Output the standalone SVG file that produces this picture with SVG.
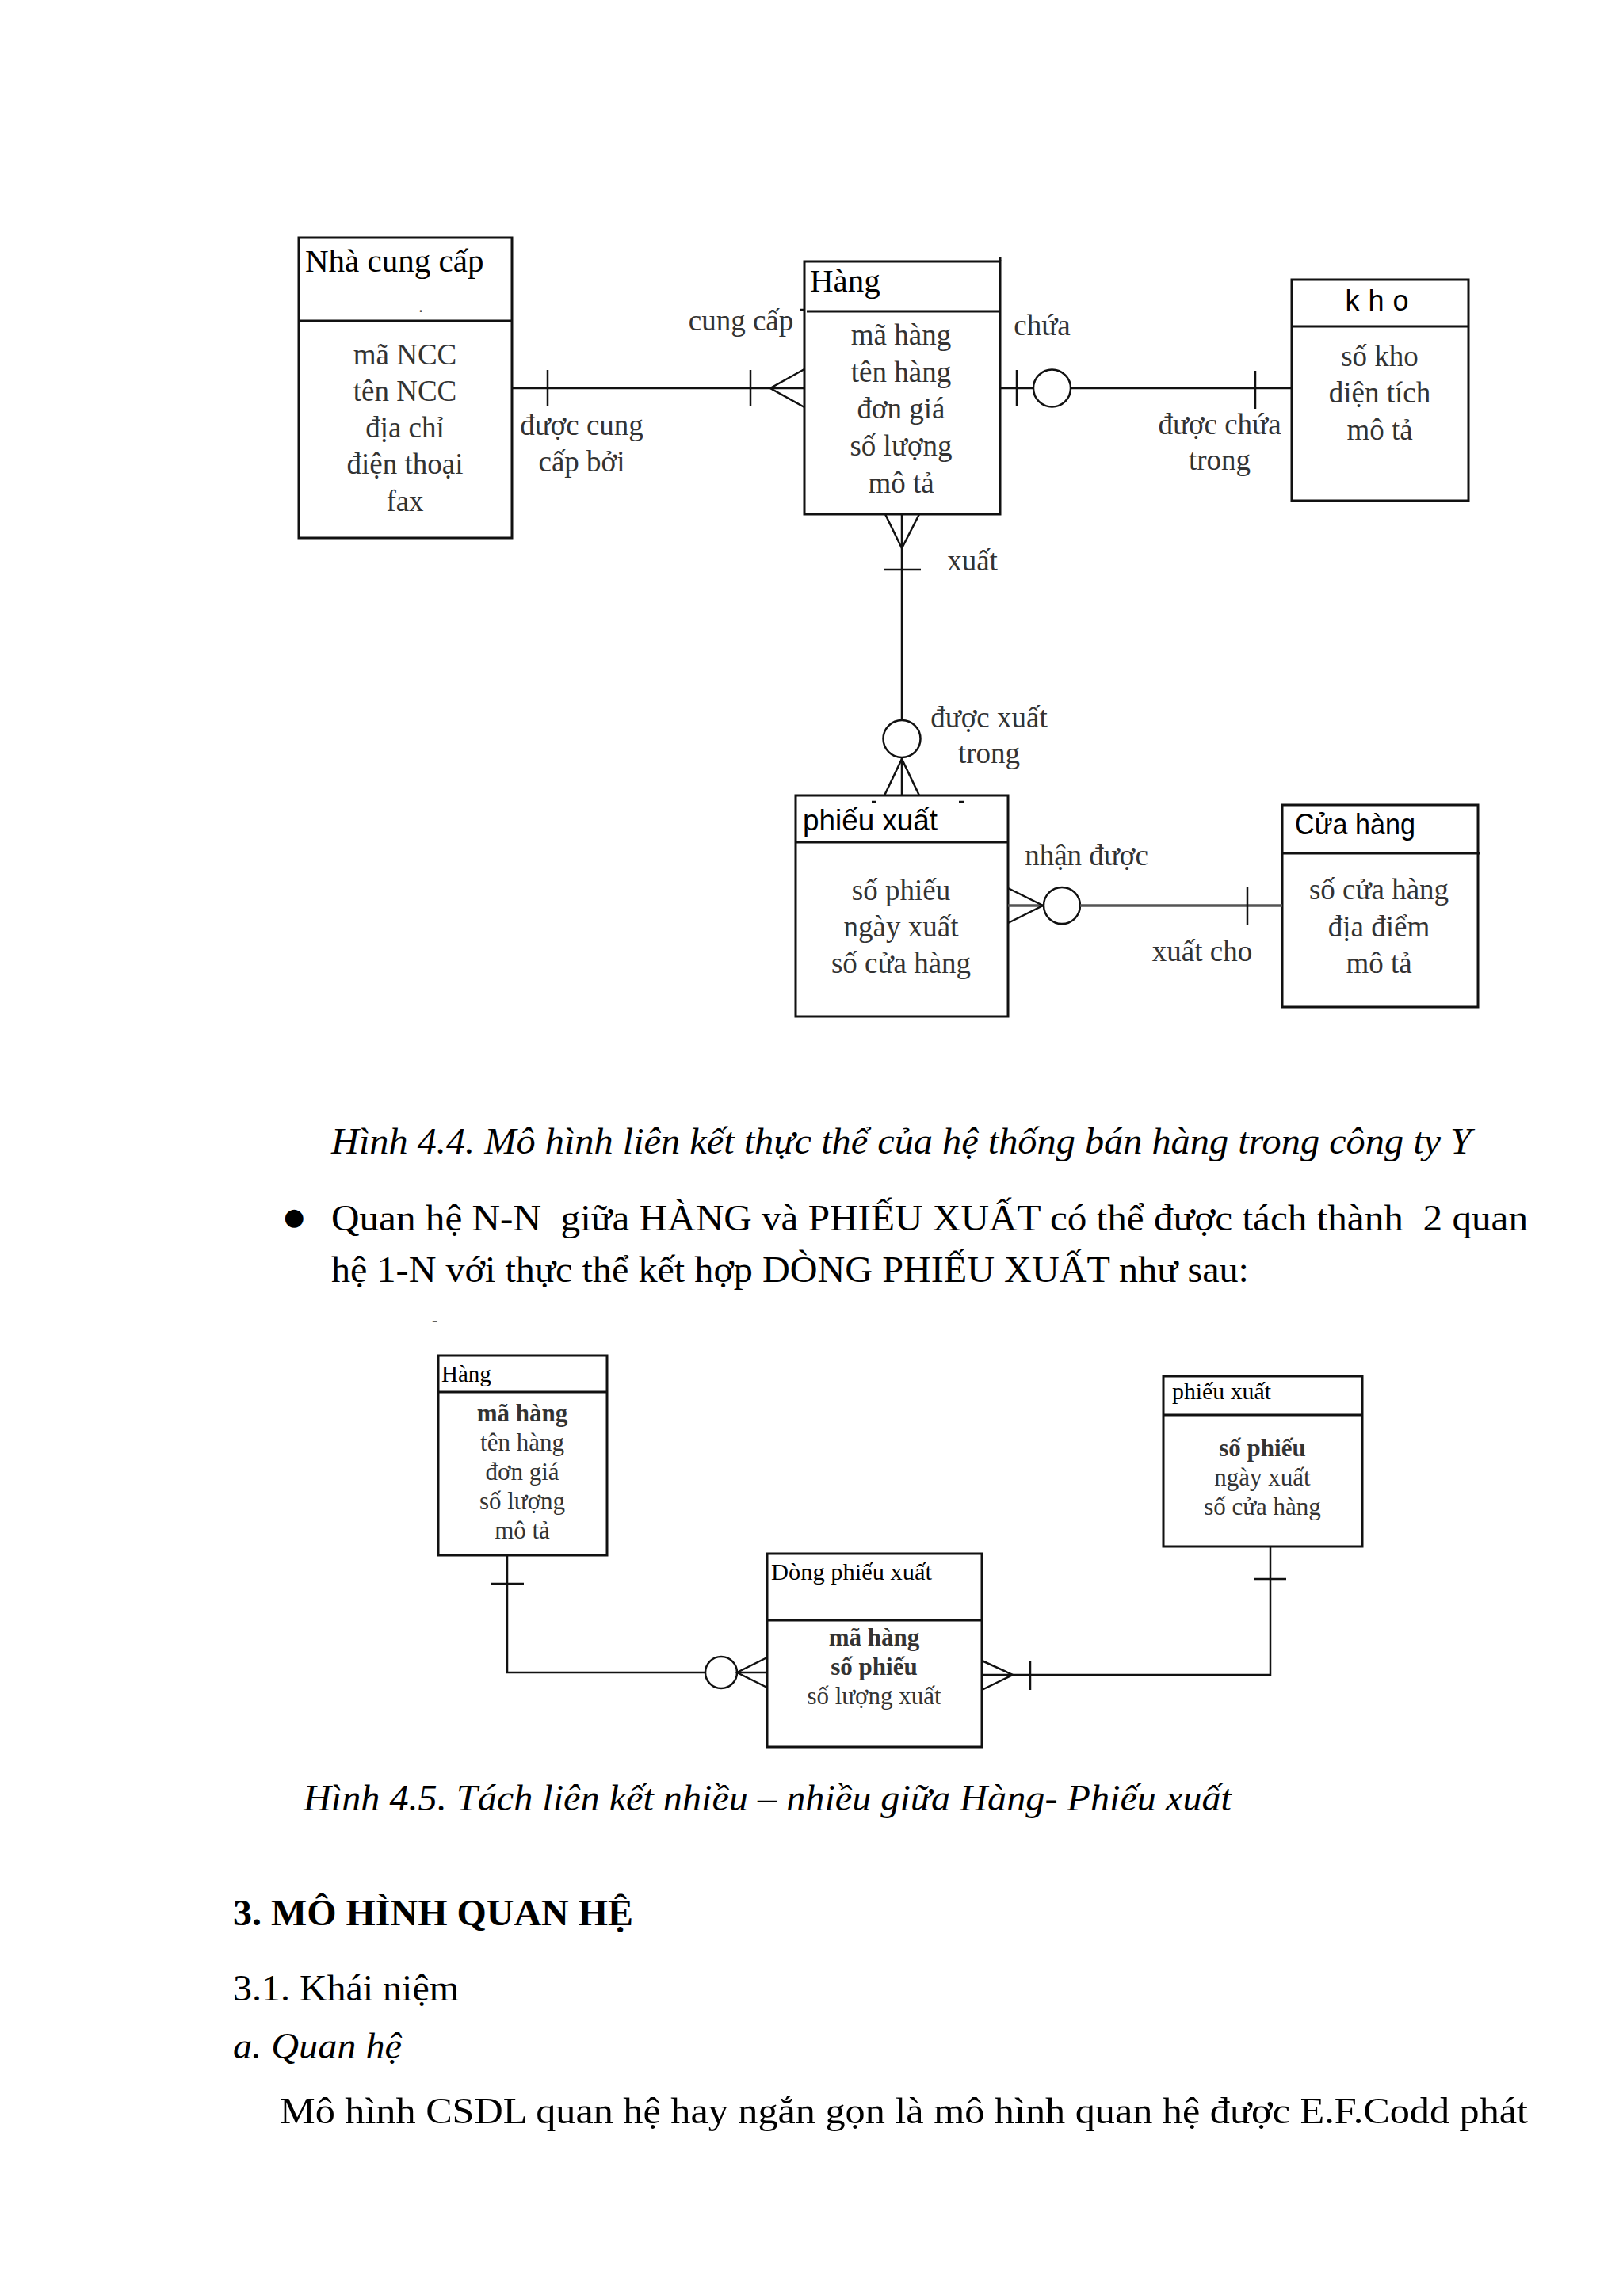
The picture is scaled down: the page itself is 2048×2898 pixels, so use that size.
<svg xmlns="http://www.w3.org/2000/svg" width="2048" height="2898" viewBox="0 0 2048 2898">
<style>
.bg{fill:#fff}
.box{fill:none;stroke:#111;stroke-width:3}
.ln{fill:none;stroke:#111;stroke-width:2.5}
.ln2{fill:none;stroke:#555;stroke-width:3.5}
.o{fill:#fff;stroke:#111;stroke-width:2.5}
.serif{font-family:"Liberation Serif","Times New Roman",serif}
.sans{font-family:"Liberation Sans",Arial,sans-serif}
.ttl{font-size:41px;fill:#000}
.ttls{font-size:36px;fill:#000}
.att{font-size:37px;fill:#333;text-anchor:middle}
.lbl{font-size:37px;fill:#333;text-anchor:middle}
.ttl2{font-size:29px;fill:#000}
.att2{font-size:31px;fill:#333;text-anchor:middle}
.b{font-weight:bold}
.body{font-size:46px;fill:#000}
.it{font-style:italic}
</style>
<rect class="bg" x="0" y="0" width="2048" height="2898"/>

<!-- Diagram 1 nodes -->
<g id="ncc">
<rect class="box" x="377" y="300" width="269" height="379"/>
<line class="box" x1="377" y1="405" x2="646" y2="405"/>
<text class="serif ttl" x="385" y="343">Nhà cung cấp</text>
<text class="serif" x="528" y="394" font-size="24" fill="#333">.</text>
<text class="serif att" x="511" y="460">mã NCC</text>
<text class="serif att" x="511" y="506">tên NCC</text>
<text class="serif att" x="511" y="552">địa chỉ</text>
<text class="serif att" x="511" y="598">điện thoại</text>
<text class="serif att" x="511" y="645">fax</text>
</g>

<g id="hang">
<rect class="box" x="1015" y="330" width="247" height="319"/>
<line class="box" x1="1262" y1="324" x2="1262" y2="330"/>
<line class="box" x1="1018" y1="393" x2="1262" y2="393"/>
<line class="ln" x1="1009" y1="391" x2="1014" y2="391"/>
<text class="serif ttl" x="1022" y="368">Hàng</text>
<text class="serif att" x="1137" y="435">mã hàng</text>
<text class="serif att" x="1137" y="482">tên hàng</text>
<text class="serif att" x="1137" y="528">đơn giá</text>
<text class="serif att" x="1137" y="575">số lượng</text>
<text class="serif att" x="1137" y="622">mô tả</text>
</g>

<g id="kho">
<rect class="box" x="1630" y="353" width="223" height="279"/>
<line class="box" x1="1630" y1="412" x2="1853" y2="412"/>
<text class="sans ttls" x="1743" y="392" text-anchor="middle" letter-spacing="11">kho</text>
<text class="serif att" x="1741" y="462">số kho</text>
<text class="serif att" x="1741" y="508">diện tích</text>
<text class="serif att" x="1741" y="555">mô tả</text>
</g>

<g id="phieuxuat">
<rect class="box" x="1004" y="1004" width="268" height="279"/>
<line class="box" x1="1004" y1="1063" x2="1272" y2="1063"/>
<line class="ln" x1="1100" y1="1012" x2="1106" y2="1012"/>
<line class="ln" x1="1210" y1="1012" x2="1216" y2="1012"/>
<text class="sans ttls" x="1013" y="1048" textLength="170" lengthAdjust="spacingAndGlyphs">phiếu xuất</text>
<text class="serif att" x="1137" y="1136">số phiếu</text>
<text class="serif att" x="1137" y="1182">ngày xuất</text>
<text class="serif att" x="1137" y="1228">số cửa hàng</text>
</g>

<g id="cuahang">
<rect class="box" x="1618" y="1016" width="247" height="255"/>
<line class="box" x1="1618" y1="1077" x2="1868" y2="1077"/>
<text class="sans ttls" x="1634" y="1053" textLength="152" lengthAdjust="spacingAndGlyphs">Cửa hàng</text>
<text class="serif att" x="1740" y="1135">số cửa hàng</text>
<text class="serif att" x="1740" y="1182">địa điểm</text>
<text class="serif att" x="1740" y="1228">mô tả</text>
</g>

<!-- Diagram 2 nodes -->
<g id="hang2">
<rect class="box" x="553" y="1711" width="213" height="252"/>
<line class="box" x1="553" y1="1757" x2="766" y2="1757"/>
<text class="serif ttl2" x="557" y="1744">Hàng</text>
<text class="serif att2 b" x="659" y="1794">mã hàng</text>
<text class="serif att2" x="659" y="1831">tên hàng</text>
<text class="serif att2" x="659" y="1868">đơn giá</text>
<text class="serif att2" x="659" y="1905">số lượng</text>
<text class="serif att2" x="659" y="1942">mô tả</text>
</g>

<g id="dongphieuxuat">
<rect class="box" x="968" y="1961" width="271" height="244"/>
<line class="box" x1="968" y1="2045" x2="1239" y2="2045"/>
<text class="serif ttl2" x="973" y="1994" textLength="203" lengthAdjust="spacingAndGlyphs">Dòng phiếu xuất</text>
<text class="serif att2 b" x="1103" y="2077">mã hàng</text>
<text class="serif att2 b" x="1103" y="2114">số phiếu</text>
<text class="serif att2" x="1103" y="2151">số lượng xuất</text>
</g>

<g id="phieuxuat2">
<rect class="box" x="1468" y="1737" width="251" height="215"/>
<line class="box" x1="1468" y1="1786" x2="1719" y2="1786"/>
<text class="serif ttl2" x="1479" y="1766" textLength="125" lengthAdjust="spacingAndGlyphs">phiếu xuất</text>
<text class="serif att2 b" x="1593" y="1838">số phiếu</text>
<text class="serif att2" x="1593" y="1875">ngày xuất</text>
<text class="serif att2" x="1593" y="1912">số cửa hàng</text>
</g>

<!-- Connectors -->
<g id="connectors">
<!-- Nha cung cap - Hang -->
<line class="ln" x1="646" y1="490" x2="1015" y2="490"/>
<line class="ln" x1="691" y1="467" x2="691" y2="513"/>
<line class="ln" x1="947" y1="467" x2="947" y2="513"/>
<polyline class="ln" points="1015,466 972,490 1015,514"/>
<text class="serif lbl" x="935" y="417">cung cấp</text>
<text class="serif lbl" x="734" y="549">được cung</text>
<text class="serif lbl" x="734" y="595">cấp bởi</text>

<!-- Hang - kho -->
<line class="ln" x1="1262" y1="490" x2="1304" y2="490"/>
<line class="ln" x1="1351" y1="490" x2="1630" y2="490"/>
<line class="ln" x1="1283" y1="467" x2="1283" y2="513"/>
<circle class="o" cx="1327.5" cy="490" r="23.5"/>
<line class="ln" x1="1584" y1="468" x2="1584" y2="516"/>
<text class="serif lbl" x="1315" y="423">chứa</text>
<text class="serif lbl" x="1539" y="548">được chứa</text>
<text class="serif lbl" x="1539" y="593">trong</text>

<!-- Hang - phieu xuat -->
<line class="ln" x1="1138" y1="649" x2="1138" y2="909"/>
<polyline class="ln" points="1117,649 1138,692 1160,649"/>
<line class="ln" x1="1115" y1="719" x2="1162" y2="719"/>
<circle class="o" cx="1138" cy="932.5" r="23.5"/>
<line class="ln" x1="1138" y1="956" x2="1138" y2="1004"/>
<polyline class="ln" points="1116,1004 1138,958 1160,1004"/>
<text class="serif lbl" x="1227" y="720">xuất</text>
<text class="serif lbl" x="1248" y="918">được xuất</text>
<text class="serif lbl" x="1248" y="963">trong</text>

<!-- phieu xuat - Cua hang -->
<line class="ln2" x1="1272" y1="1143" x2="1317" y2="1143"/>
<polyline class="ln" points="1272,1121 1316,1143 1272,1165"/>
<circle class="o" cx="1340" cy="1143" r="23"/>
<line class="ln2" x1="1363" y1="1143" x2="1618" y2="1143"/>
<line class="ln" x1="1574" y1="1120" x2="1574" y2="1168"/>
<text class="serif lbl" x="1371" y="1092">nhận được</text>
<text class="serif lbl" x="1517" y="1213">xuất cho</text>

<!-- Diagram 2: Hang - Dong phieu xuat -->
<polyline class="ln" points="640,1963 640,2111 890,2111"/>
<line class="ln" x1="620" y1="1999" x2="661" y2="1999"/>
<circle class="o" cx="910" cy="2111" r="20"/>
<line class="ln" x1="930" y1="2111" x2="968" y2="2111"/>
<polyline class="ln" points="968,2092 930,2111 968,2130"/>

<!-- Diagram 2: Dong phieu xuat - phieu xuat -->
<polyline class="ln" points="1239,2114 1603,2114 1603,1952"/>
<polyline class="ln" points="1239,2096 1278,2114 1239,2133"/>
<line class="ln" x1="1300" y1="2096" x2="1300" y2="2133"/>
<line class="ln" x1="1582" y1="1993" x2="1623" y2="1993"/>
</g>

<!-- Page text -->
<g id="pagetext">
<text class="serif body it" x="418" y="1456" textLength="1439" lengthAdjust="spacingAndGlyphs">Hình 4.4. Mô hình liên kết thực thể của hệ thống bán hàng trong công ty Y</text>
<text x="371" y="1546" font-family="DejaVu Sans, sans-serif" font-size="30" text-anchor="middle" fill="#000">●</text>
<text class="serif body" x="418" y="1553" textLength="1510" lengthAdjust="spacingAndGlyphs" xml:space="preserve">Quan hệ N-N  giữa HÀNG và PHIẾU XUẤT có thể được tách thành  2 quan</text>
<text class="serif body" x="418" y="1618" textLength="1158" lengthAdjust="spacingAndGlyphs">hệ 1-N với thực thể kết hợp DÒNG PHIẾU XUẤT như sau:</text>
<text class="serif" x="545" y="1673" font-size="22" fill="#000">-</text>
<text class="serif body it" x="383" y="2285" textLength="1171" lengthAdjust="spacingAndGlyphs">Hình 4.5. Tách liên kết nhiều – nhiều giữa Hàng- Phiếu xuất</text>
<text class="serif body b" x="294" y="2430" textLength="505" lengthAdjust="spacingAndGlyphs">3. MÔ HÌNH QUAN HỆ</text>
<text class="serif body" x="294" y="2525" textLength="285" lengthAdjust="spacingAndGlyphs">3.1. Khái niệm</text>
<text class="serif body it" x="294" y="2598" textLength="213" lengthAdjust="spacingAndGlyphs">a. Quan hệ</text>
<text class="serif body" x="353" y="2680" textLength="1575" lengthAdjust="spacingAndGlyphs">Mô hình CSDL quan hệ hay ngắn gọn là mô hình quan hệ được E.F.Codd phát</text>
</g>
</svg>
